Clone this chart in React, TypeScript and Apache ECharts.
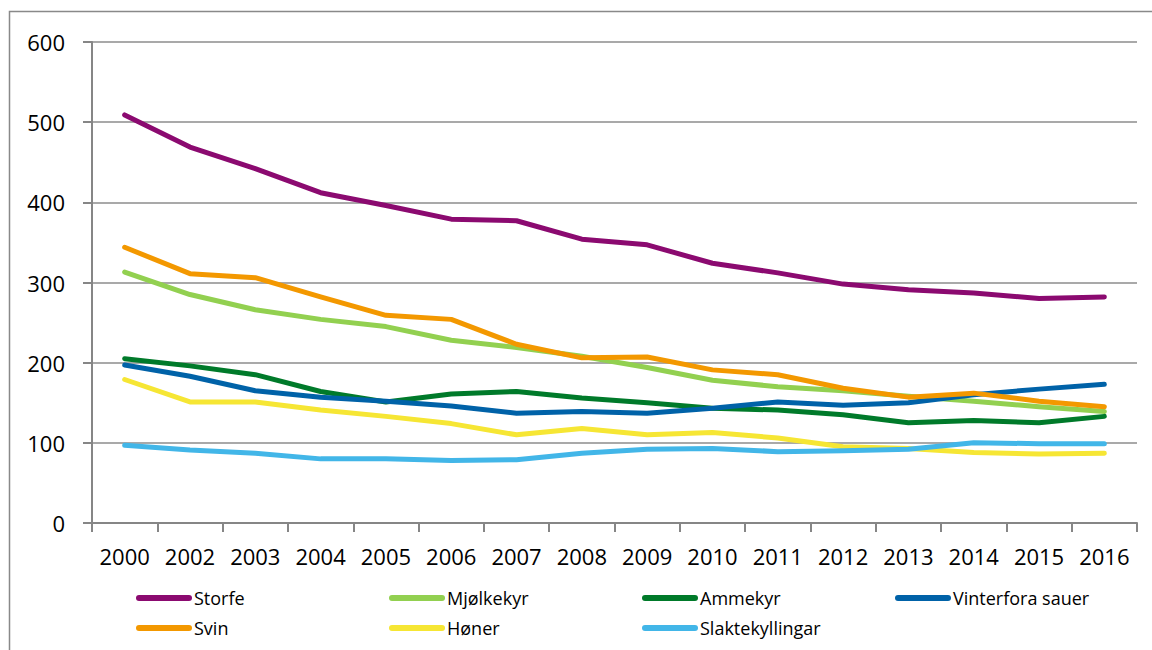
import React, { useEffect, useRef } from "react";
import * as echarts from "echarts";

const years = ["2000", "2002", "2003", "2004", "2005", "2006", "2007", "2008", "2009", "2010", "2011", "2012", "2013", "2014", "2015", "2016"];

const storfe = [509, 469, 442, 412, 396, 379, 377, 354, 347, 324, 312, 298, 291, 287, 280, 282];
const mjolkekyr = [313, 285, 266, 254, 245, 228, 219, 208, 194, 178, 170, 165, 158, 152, 145, 139];
const ammekyr = [205, 196, 185, 164, 151, 161, 164, 156, 150, 143, 141, 135, 125, 128, 125, 133];
const vinterfora = [197, 183, 165, 157, 152, 146, 137, 139, 137, 143, 151, 147, 150, 160, 167, 173];
const svin = [344, 311, 306, 282, 259, 254, 223, 206, 207, 191, 185, 168, 157, 162, 152, 145];
const honer = [179, 151, 151, 141, 133, 124, 110, 118, 110, 113, 106, 95, 93, 88, 86, 87];
const slaktekyllingar = [97, 91, 87, 80, 80, 78, 79, 87, 92, 93, 89, 90, 92, 100, 99, 99];

const seriesDefs = [
  { name: "Storfe", data: storfe, color: "#8B0A70" },
  { name: "Mjølkekyr", data: mjolkekyr, color: "#92D050" },
  { name: "Ammekyr", data: ammekyr, color: "#007A2A" },
  { name: "Vinterfora sauer", data: vinterfora, color: "#0062A8" },
  { name: "Svin", data: svin, color: "#F39800" },
  { name: "Høner", data: honer, color: "#F6E634" },
  { name: "Slaktekyllingar", data: slaktekyllingar, color: "#42B6E8" },
];

// legend layout: [name, column, row]
const legendCols = [131, 384, 637, 890];
const legendRows = [584, 614];
const legendPlacement: [string, number, number][] = [
  ["Storfe", 0, 0],
  ["Mjølkekyr", 1, 0],
  ["Ammekyr", 2, 0],
  ["Vinterfora sauer", 3, 0],
  ["Svin", 0, 1],
  ["Høner", 1, 1],
  ["Slaktekyllingar", 2, 1],
];

const FONT = "'Open Sans', sans-serif";
const ICON = "path://M3,0 L53,0 A3,3 0 0 1 53,6 L3,6 A3,3 0 0 1 3,0 Z";

export default function App() {
  const ref = useRef<HTMLDivElement>(null);
  useEffect(() => {
    if (!ref.current) return;
    const chart = echarts.init(ref.current, undefined, { renderer: "svg" });
    chart.setOption({
      animation: false,
      backgroundColor: "#fff",
      textStyle: { fontFamily: FONT },
      graphic: [
        {
          type: "rect",
          shape: { x: 9.5, y: 11.5, width: 1200, height: 700 },
          style: { fill: "none", stroke: "#898989", lineWidth: 1.5 },
          silent: true,
        },
      ],
      grid: { left: 92, right: 15, top: 42, bottom: 127, containLabel: false },
      xAxis: {
        type: "category",
        data: years,
        boundaryGap: true,
        axisLine: { show: true, lineStyle: { color: "#868686", width: 2 } },
        axisTick: { show: true, length: 9, alignWithLabel: false, lineStyle: { color: "#868686", width: 2 } },
        axisLabel: { color: "#000", fontSize: 22, fontFamily: FONT, margin: 22, interval: 0 },
      },
      yAxis: {
        type: "value",
        min: 0,
        max: 600,
        interval: 100,
        axisLine: { show: true, lineStyle: { color: "#868686", width: 2 } },
        axisTick: { show: true, length: 9, lineStyle: { color: "#868686", width: 2 } },
        axisLabel: { color: "#000", fontSize: 22, fontFamily: FONT, margin: 27 },
        splitLine: { show: true, lineStyle: { color: "#8c8c8c", width: 1.5 } },
      },
      legend: legendPlacement.map(([name, c, r]) => ({
        left: legendCols[c],
        top: legendRows[r],
        orient: "horizontal",
        itemWidth: 56,
        itemHeight: 6,
        itemGap: 0,
        icon: ICON,
        textStyle: { fontFamily: FONT, fontSize: 18, color: "#000", padding: [0, 0, 0, -3] },
        data: [name],
      })),
      series: seriesDefs.map((s) => ({
        name: s.name,
        type: "line",
        data: s.data,
        symbol: "none",
        color: s.color,
        lineStyle: { color: s.color, width: 5, cap: "round", join: "round" },
        itemStyle: { color: s.color },
      })),
    });
    return () => chart.dispose();
  }, []);
  return (
    <div
      ref={ref}
      style={{ position: "fixed", left: 0, top: 0, width: 1152, height: 650 }}
    />
  );
}
